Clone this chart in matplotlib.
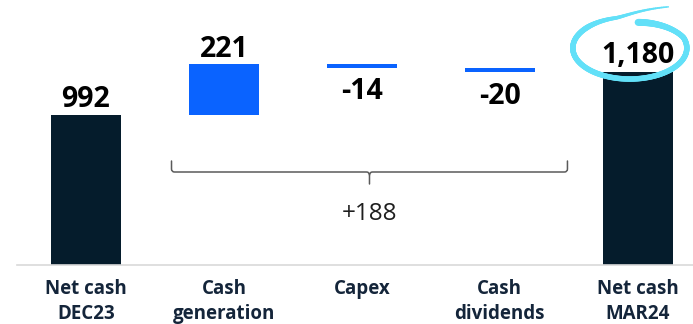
import numpy as np
import matplotlib
matplotlib.use("Agg")
import matplotlib.pyplot as plt
import matplotlib.transforms as mtransforms
from matplotlib.path import Path
from matplotlib.patches import PathPatch
from matplotlib.collections import LineCollection

# ---- data -------------------------------------------------------------
categories = ["Net cash\nDEC23", "Cash\ngeneration", "Capex",
              "Cash\ndividends", "Net cash\nMAR24"]
opening = 992
changes = [221, -14, -20]
closing = 1180
value_labels = ["992", "221", "-14", "-20", "1,180"]

# ---- style ------------------------------------------------------------
NAVY = "#051c2c"
BLUE = "#0a63ff"
TEXT = "#14253a"
CYAN = "#62e0f8"
BRACKET = "#5a5a5a"

FLOOR = 336      # value axis is truncated here
TOP = 1495
BAR_W = 0.51

plt.rcParams["font.family"] = ["Open Sans", "DejaVu Sans"]

fig = plt.figure(figsize=(6.93, 3.24), dpi=100)
ax = fig.add_axes([17 / 693, 59 / 324, 676 / 693, 265 / 324])
ax.set_xlim(-0.5, 4.4)
ax.set_ylim(FLOOR, TOP)

# pixel -> data helpers (figure is drawn at 100 dpi)
px_x = (4.4 + 0.5) / 676
px_y = (TOP - FLOOR) / 265

x = np.arange(len(categories))

# totals
ax.bar(x[0], opening - FLOOR, bottom=FLOOR, width=BAR_W, color=NAVY, zorder=2)
ax.bar(x[-1], closing - FLOOR, bottom=FLOOR, width=BAR_W, color=NAVY, zorder=2)

# floating changes
levels = opening + np.cumsum([0] + changes)
for i, ch in enumerate(changes):
    lo = min(levels[i], levels[i + 1])
    ax.bar(x[i + 1], abs(ch), bottom=lo, width=BAR_W, color=BLUE, zorder=2)

# value labels
label_kw = dict(textcoords="offset points", ha="center", va="baseline",
                fontsize=20.5, fontweight="bold", color="black", zorder=5)
ax.annotate(value_labels[0], xy=(x[0], opening), xytext=(0, 5.8), **label_kw)
ax.annotate(value_labels[-1], xy=(x[-1], closing), xytext=(0, 6.3), **label_kw)
for i, ch in enumerate(changes):
    if ch >= 0:
        ax.annotate(value_labels[i + 1], xy=(x[i + 1], max(levels[i], levels[i + 1])),
                    xytext=(0, 5.3), **label_kw)
    else:
        ax.annotate(value_labels[i + 1], xy=(x[i + 1], min(levels[i], levels[i + 1])),
                    xytext=(0, -22.5), **label_kw)

# brace spanning the three movements
xl, xr = x[1] - 0.38, x[3] + 0.49
xc = (xl + xr) / 2
yb = FLOOR + 93 * px_y
arm, tip, r = 11 * px_y, 12 * px_y, 3
verts = [
    (xl, yb + arm), (xl, yb + r * px_y),
    (xl, yb), (xl + r * px_x, yb),
    (xc - r * px_x, yb),
    (xc, yb), (xc, yb - r * px_y),
    (xc, yb - tip),
    (xc, yb - r * px_y),
    (xc, yb), (xc + r * px_x, yb),
    (xr - r * px_x, yb),
    (xr, yb), (xr, yb + r * px_y),
    (xr, yb + arm),
]
codes = [Path.MOVETO, Path.LINETO,
         Path.CURVE3, Path.CURVE3,
         Path.LINETO,
         Path.CURVE3, Path.CURVE3,
         Path.LINETO,
         Path.MOVETO,
         Path.CURVE3, Path.CURVE3,
         Path.LINETO,
         Path.CURVE3, Path.CURVE3,
         Path.LINETO]
ax.add_patch(PathPatch(Path(verts, codes), fill=False, edgecolor=BRACKET,
                       lw=1.1, capstyle="round", zorder=3))
net_change = closing - opening
ax.text(xc, FLOOR + 45 * px_y, f"{net_change:+d}", ha="center", va="baseline",
        fontsize=17.5, color="#1e1e1e")

# hand-drawn highlight loop around the closing value
theta = np.deg2rad(np.linspace(-80, 297, 300))
deg = np.rad2deg(theta)
rad = np.ones_like(theta)
rad = np.where(deg < -20, 0.84 + 0.16 * (deg + 80) / 60, rad)
rad = np.where(deg > 255, 1 + 0.49 * ((deg - 255) / 42) ** 1.6, rad)
a, b = 57, 31
cx, cy = -8, 24
px = cx + a * rad * np.cos(theta)
py = cy - b * rad * np.sin(theta)
pts = np.column_stack([px, py])
segs = np.stack([pts[:-1], pts[1:]], axis=1)
t = np.linspace(0, 1, len(segs))
widths_px = np.where(t < 0.12, 7.0 - 1.5 * t / 0.12, 5.5)
widths_px = np.where(t > 0.8, 5.5 - 4.0 * (t - 0.8) / 0.2, widths_px)
loop_trans = mtransforms.Affine2D() + mtransforms.ScaledTranslation(x[-1], closing, ax.transData)
loop = LineCollection(segs, linewidths=widths_px * 0.72, colors=CYAN,
                      transform=loop_trans, capstyle="round", joinstyle="round",
                      zorder=6, clip_on=False)
ax.add_collection(loop, autolim=False)

# axes cosmetics
for side in ("left", "top", "right"):
    ax.spines[side].set_visible(False)
ax.spines["bottom"].set_color("#d9d9d9")
ax.spines["bottom"].set_linewidth(1.2)
ax.set_yticks([])
ax.set_xticks(x, categories)
ax.tick_params(axis="x", length=0, pad=10, labelsize=13.5, labelcolor=TEXT)
for lab in ax.get_xticklabels():
    lab.set_fontweight("bold")
    lab.set_linespacing(1.32)

fig.savefig("out.png", dpi=100)
